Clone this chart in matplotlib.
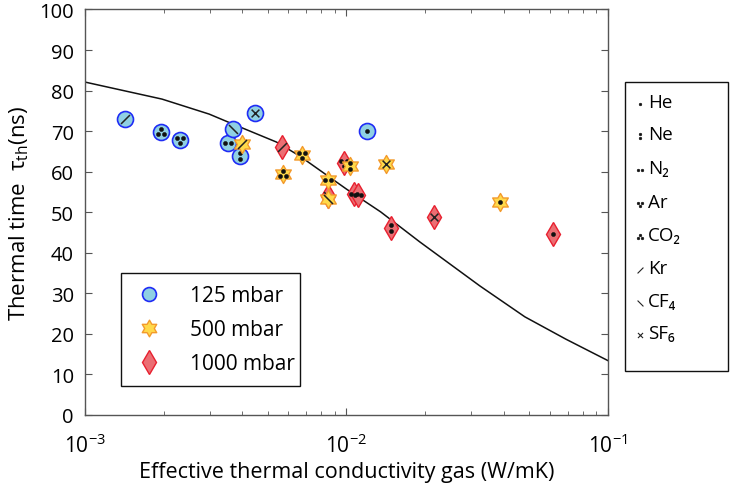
import numpy as np
import matplotlib
matplotlib.use('Agg')
import matplotlib.pyplot as plt
from matplotlib.path import Path
from matplotlib.lines import Line2D
from matplotlib.patches import Rectangle
from matplotlib.transforms import offset_copy
from matplotlib.ticker import FixedLocator, LogLocator, NullFormatter

plt.rcParams['font.family'] = ['Open Sans', 'DejaVu Sans']
plt.rcParams['mathtext.fontset'] = 'custom'
plt.rcParams['mathtext.rm'] = 'Open Sans'
plt.rcParams['mathtext.it'] = 'Open Sans:italic'
plt.rcParams['mathtext.default'] = 'regular'

# ---------------- data ----------------
gas_keys = ['He', 'Ne', 'N2', 'Ar', 'CO2', 'Kr', 'CF4', 'SF6']
gas_labels = ['He', 'Ne', 'N₂', 'Ar', 'CO₂', 'Kr', 'CF₄', 'SF₆']

g125 = ['Kr', 'CO2', 'Ar', 'N2', 'CF4', 'Ne', 'SF6', 'He']
k125 = [1.42e-3, 1.95e-3, 2.31e-3, 3.53e-3, 3.69e-3, 3.93e-3, 4.48e-3, 1.20e-2]
t125 = [73.0, 69.8, 67.8, 67.1, 70.5, 63.9, 74.5, 70.0]

g500 = ['Kr', 'CO2', 'Ar', 'N2', 'CF4', 'Ne', 'SF6', 'He']
k500 = [4.0e-3, 5.74e-3, 6.73e-3, 8.53e-3, 8.46e-3, 1.035e-2, 1.41e-2, 3.85e-2]
t500 = [66.8, 59.4, 64.1, 58.0, 53.3, 61.4, 61.9, 52.5]

g1000 = ['Kr', 'Ar', 'N2', 'N2', 'CF4', 'Ne', 'SF6', 'He']
k1000 = [5.69e-3, 9.82e-3, 1.064e-2, 1.11e-2, 8.46e-3, 1.486e-2, 2.17e-2, 6.15e-2]
t1000 = [66.1, 62.1, 54.5, 54.3, 54.0, 46.1, 48.8, 44.6]

curve_k = [1.0e-3, 1.97e-3, 2.985e-3, 3.66e-3, 5.40e-3, 6.61e-3, 1.0e-2,
           1.35e-2, 1.905e-2, 3.24e-2, 4.81e-2, 6.9e-2, 1.0e-1]
curve_t = [82.1, 77.9, 74.2, 71.8, 67.3, 63.9, 55.7, 50.1, 42.7, 31.8, 24.2,
           18.7, 13.4]

pressure_labels = ['125 mbar', '500 mbar', '1000 mbar']

# ---------------- symbol definitions ----------------
dot_offsets = {
    'He': [(0, 0)],
    'Ne': [(0, 1), (0, -1)],
    'N2': [(-1, 0), (1, 0)],
    'Ar': [(-1, 0.6), (1, 0.6), (0, -1.1)],
    'CO2': [(0, 1.1), (-1, -0.6), (1, -0.6)],
}

def seg(lines):
    verts, codes = [], []
    for (a, b) in lines:
        verts += [a, b]
        codes += [Path.MOVETO, Path.LINETO]
    return Path(verts, codes)

line_paths = {
    'Kr': seg([((-1.5, -1.5), (1.5, 1.5))]),
    'CF4': seg([((-1.5, 1.5), (1.5, -1.5))]),
    'SF6': seg([((-1.3, -1.3), (1.3, 1.3)), ((-1.3, 1.3), (1.3, -1.3))]),
}

def line_ms(key, unit_pt):
    return 2 * np.max(np.abs(line_paths[key].vertices)) * unit_pt

def add_symbol(target, base, x, y, key, unit_pt, dot_ms, lw, z):
    """Draw the gas symbol centred on (x, y) given in `base` coordinates."""
    if key in dot_offsets:
        for dx, dy in dot_offsets[key]:
            tr = offset_copy(base, fig=fig, x=dx * unit_pt, y=dy * unit_pt, units='points')
            ln = Line2D([x], [y], linestyle='none', marker='o', ms=dot_ms,
                        mfc='#111111', mec='#111111', mew=0.4, transform=tr, zorder=z)
            target.add_artist(ln) if target is fig else target.add_line(ln)
    else:
        ln = Line2D([x], [y], linestyle='none', marker=line_paths[key],
                    ms=line_ms(key, unit_pt), mfc='none', mec='#222222', mew=lw,
                    transform=base, zorder=z)
        target.add_artist(ln) if target is fig else target.add_line(ln)

star6 = Path.unit_regular_star(6, 0.577)

styles = [
    dict(marker='o', ms=11.5, mfc='#8fd0e3', mec='#1f2cf5', mew=1.2),
    dict(marker=star6, ms=13.0, mfc='#ffd94a', mec='#f39a2c', mew=1.0),
    dict(marker='d', ms=12.0, mfc='#eb6e73', mec='#e8202f', mew=1.0),
]

# ---------------- figure ----------------
fig = plt.figure(figsize=(7.3, 4.85), dpi=100)
ax = fig.add_axes([0.1164, 0.1423, 0.7165, 0.8361])

ax.plot(curve_k, curve_t, color='#111111', lw=1.1, zorder=2)

ax.set_xscale('log')
ax.set_xlim(1e-3, 1e-1)
ax.set_ylim(0, 100)

groups = [(g125, k125, t125, styles[0], 3),
          (g1000, k1000, t1000, styles[2], 4),
          (g500, k500, t500, styles[1], 5)]
for gs, ks, ts, st, z in groups:
    for g, k, t in zip(gs, ks, ts):
        ax.plot([k], [t], linestyle='none', zorder=z, **st)
        add_symbol(ax, ax.transData, k, t, g, 2.15, 2.9, 1.1, z + 0.5)

ax.set_yticks(np.arange(0, 101, 10))
ax.xaxis.set_major_locator(FixedLocator([1e-3, 1e-2, 1e-1]))
ax.xaxis.set_minor_locator(LogLocator(base=10, subs=np.arange(2, 10)))
ax.xaxis.set_minor_formatter(NullFormatter())
ax.set_xticklabels([r'$10^{-3}$', r'$10^{-2}$', r'$10^{-1}$'])

for sp in ax.spines.values():
    sp.set_color('#555555')
    sp.set_linewidth(1.0)
ax.tick_params(axis='both', which='both', direction='in', top=True, right=True,
               color='#555555')
ax.tick_params(axis='y', which='major', length=5, labelsize=14.5, pad=8)
ax.tick_params(axis='x', which='major', length=5, labelsize=15, pad=13)
ax.tick_params(axis='x', which='minor', length=3)

ax.set_xlabel('Effective thermal conductivity gas (W/mK)', fontsize=15.5, labelpad=3)
ax.set_ylabel(r'Thermal time  $\tau_{th}$(ns)', fontsize=16, labelpad=6)

# pressure legend
ph = [Line2D([], [], linestyle='none', **st) for st in styles]
ph[0].set_markersize(10)
ph[1].set_markersize(12)
ph[2].set_markersize(12)
leg1 = ax.legend(ph, pressure_labels, loc='lower left',
                 bbox_to_anchor=(0.069, 0.0715, 0.342, 0.2715), mode='expand',
                 fontsize=15, frameon=True, fancybox=False, edgecolor='#111111',
                 framealpha=1, borderpad=0.57, labelspacing=0.62, handlelength=1.54,
                 handletextpad=1.2, borderaxespad=0)
leg1.get_frame().set_linewidth(1.0)

# gas legend (drawn in figure pixel positions)
W, H = 730.0, 485.0
def fx(px):
    return px / W
def fy(py):
    return 1 - py / H

fig.add_artist(Rectangle((fx(625), fy(372)), fx(728) - fx(625), fy(83) - fy(372),
                         transform=fig.transFigure, facecolor='white',
                         edgecolor='#111111', lw=1.0))
row_y = [103, 135, 169, 203, 236, 269, 302, 334]
for key, lab, py in zip(gas_keys, gas_labels, row_y):
    add_symbol(fig, fig.transFigure, fx(640), fy(py + 2), key, 1.4, 1.9, 0.8, 3)
    fig.text(fx(648), fy(py), lab, fontsize=13.5, va='center', ha='left')

fig.savefig('out.png', dpi=100)
